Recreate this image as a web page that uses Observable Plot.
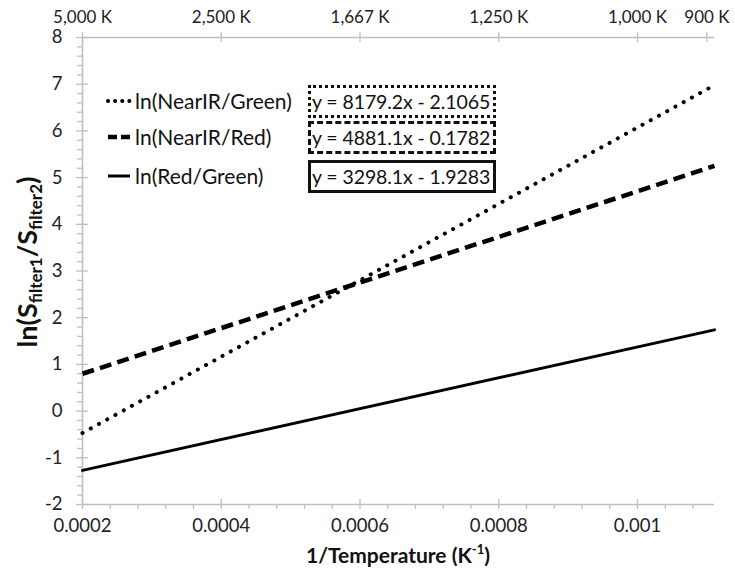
<!DOCTYPE html>
<html>
<head>
<meta charset="utf-8">
<script src="https://cdn.jsdelivr.net/npm/d3@7"></script>
<script src="https://cdn.jsdelivr.net/npm/@observablehq/plot@0.6"></script>
<style>
  body { margin: 0; background: #fff; }
  #wrap { position: relative; width: 735px; height: 577px; font-family: Lato, "Liberation Sans", sans-serif; }
  .legrow { position: absolute; left: 106px; height: 33px; display: flex; align-items: center; font-size: 21px; color: #111; white-space: nowrap; }
  .legrow svg { margin-right: 3px; }
  .eq { position: absolute; left: 308px; width: 181px; height: 27px; line-height: 27px; font-size: 19.5px; color: #111; padding-left: 1px; white-space: nowrap; overflow: hidden; letter-spacing: -0.1px; }
</style>
</head>
<body>
<div id="wrap"></div>
<script>
// ---- data ----
const xDomain = [0.0002, 0.001111];
const yDomain = [-2, 8];
const xEnds = [0.0002, 0.001111];
const nearIRGreen = [-0.47, 6.98];
const nearIRRed = [0.80, 5.25];
const redGreen = [-1.27, 1.74];
const seriesNames = ["ln(NearIR/Green)", "ln(NearIR/Red)", "ln(Red/Green)"];
const equations = ["y = 8179.2x - 2.1065", "y = 4881.1x - 0.1782", "y = 3298.1x - 1.9283"];
const xMajor = [0.0002, 0.0004, 0.0006, 0.0008, 0.001];
const xMinor = [0.00024, 0.00028, 0.00032, 0.00036, 0.00044, 0.00048, 0.00052, 0.00056, 0.00064, 0.00068, 0.00072, 0.00076, 0.00084, 0.00088, 0.00092, 0.00096, 0.00104, 0.00108];
const xTickLabels = ["0.0002", "0.0004", "0.0006", "0.0008", "0.001"];
const yMajor = [-2, -1, 0, 1, 2, 3, 4, 5, 6, 7, 8];
const yMinor = d3.range(-2, 8, 0.2).map(v => +v.toFixed(1)).filter(v => !Number.isInteger(v));
const topTicks = [0.0002, 0.0004, 0.0006, 0.0008, 0.001, 0.0011];
const topLabels = ["5,000 K", "2,500 K", "1,667 K", "1,250 K", "1,000 K", "900 K"];

const mk = (ys, name) => xEnds.map((x, i) => ({x, y: ys[i], name}));
const dNG = mk(nearIRGreen, seriesNames[0]);
const dNR = mk(nearIRRed, seriesNames[1]);
const dRG = mk(redGreen, seriesNames[2]);

const axisColor = "#bfbfbf";
const font = "Lato, 'Liberation Sans', sans-serif";

const chart = Plot.plot({
  width: 735,
  height: 577,
  marginLeft: 82,
  marginRight: 21,
  marginTop: 37,
  marginBottom: 73,
  style: {fontFamily: font, background: "#fff", color: "#222"},
  x: {domain: xDomain, axis: null},
  y: {domain: yDomain, axis: null},
  marks: [
    // axis lines
    Plot.ruleY([-2], {stroke: axisColor, strokeWidth: 1.6}),
    Plot.ruleY([8], {stroke: axisColor, strokeWidth: 1.6}),
    Plot.ruleX([0.0002], {stroke: axisColor, strokeWidth: 1.6}),
    // bottom ticks
    Plot.ruleX(xMajor, {x: d => d, y1: -2, y2: -2, insetTop: -5, insetBottom: -5, stroke: axisColor, strokeWidth: 1.3}),
    Plot.ruleX(xMinor, {x: d => d, y1: -2, y2: -2, insetTop: 0, insetBottom: -5, stroke: axisColor, strokeWidth: 1.3}),
    // top ticks
    Plot.ruleX(topTicks, {x: d => d, y1: 8, y2: 8, insetTop: -5, insetBottom: -5, stroke: axisColor, strokeWidth: 1.3}),
    // left ticks
    Plot.ruleY(yMajor, {y: d => d, x1: 0.0002, x2: 0.0002, insetLeft: -6, insetRight: -6, stroke: axisColor, strokeWidth: 1.3}),
    Plot.ruleY(yMinor, {y: d => d, x1: 0.0002, x2: 0.0002, insetLeft: -5, insetRight: 0, stroke: axisColor, strokeWidth: 1.3}),
    // tick labels
    Plot.text(yMajor, {y: d => d, frameAnchor: "left", dx: -20, textAnchor: "end", text: d => String(d), fontSize: 18.5, fill: "#222"}),
    Plot.text(xMajor, {x: d => d, frameAnchor: "bottom", dy: 27, text: (d, i) => xTickLabels[i], fontSize: 18.5, fill: "#222"}),
    Plot.text(topTicks, {x: d => d, frameAnchor: "top", dy: -27, text: (d, i) => topLabels[i], fontSize: 17, fill: "#222"}),
    // series
    Plot.line(dNG, {x: "x", y: "y", stroke: "#000", strokeWidth: 4, strokeDasharray: "0.1 9.3", strokeLinecap: "round"}),
    Plot.line(dNR, {x: "x", y: "y", stroke: "#000", strokeWidth: 4.5, strokeDasharray: "12 6.3", strokeLinecap: "butt"}),
    Plot.line(dRG, {x: "x", y: "y", stroke: "#000", strokeWidth: 3})
  ]
});

const svg = d3.select(chart);
// y axis title
const yt = svg.append("text")
  .attr("transform", "translate(37,262) rotate(-90)")
  .attr("text-anchor", "middle")
  .attr("font-family", font)
  .attr("font-weight", "bold")
  .attr("font-size", 27)
  .attr("fill", "#111");
yt.append("tspan").text("ln(S");
yt.append("tspan").attr("font-size", 17).attr("dy", 5).text("filter1");
yt.append("tspan").attr("dy", -5).text("/S");
yt.append("tspan").attr("font-size", 17).attr("dy", 5).text("filter2");
yt.append("tspan").attr("dy", -5).text(")");
// x axis title
const xt = svg.append("text")
  .attr("x", 398).attr("y", 563)
  .attr("text-anchor", "middle")
  .attr("font-family", font)
  .attr("font-weight", "bold")
  .attr("font-size", 21)
  .attr("fill", "#111");
xt.append("tspan").text("1/Temperature (K");
xt.append("tspan").attr("font-size", 13).attr("dy", -9).text("-1");
xt.append("tspan").attr("dy", 9).text(")");

const wrap = document.getElementById("wrap");
wrap.appendChild(chart);

// legend overlay
const swatches = [
  {dash: "0.1 7", w: 4, cap: "round"},
  {dash: "9 4", w: 4.5, cap: "butt"},
  {dash: null, w: 3, cap: "butt"}
];
const tops = [84, 120, 159];
const borders = ["3px dotted #111", "3px dashed #111", "3px solid #111"];
seriesNames.forEach((name, i) => {
  const row = document.createElement("div");
  row.className = "legrow";
  row.style.top = tops[i] + "px";
  const s = d3.create("svg").attr("width", 26).attr("height", 10);
  s.append("line").attr("x1", 2).attr("x2", 24).attr("y1", 5).attr("y2", 5)
    .attr("stroke", "#000").attr("stroke-width", swatches[i].w)
    .attr("stroke-linecap", swatches[i].cap)
    .attr("stroke-dasharray", swatches[i].dash);
  row.appendChild(s.node());
  const t = document.createElement("span");
  t.textContent = name;
  row.appendChild(t);
  wrap.appendChild(row);
  const eq = document.createElement("div");
  eq.className = "eq";
  eq.style.top = (tops[i] + 1) + "px";
  eq.style.border = borders[i];
  eq.textContent = equations[i];
  wrap.appendChild(eq);
});
</script>
</body>
</html>
